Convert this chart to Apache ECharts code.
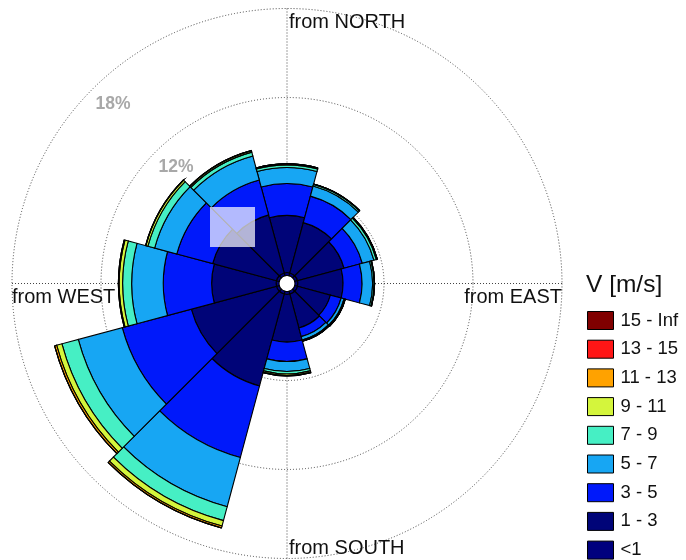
<!DOCTYPE html>
<html>
<head>
<meta charset="utf-8">
<script src="https://cdn.jsdelivr.net/npm/echarts@6/dist/echarts.min.js"></script>
<style>
html,body{margin:0;padding:0;background:#fff;}
#chart{width:686px;height:560px;}
</style>
</head>
<body>
<div id="chart"></div>
<script>
// Directions (wind "from"), clockwise from north, 30 degree sectors
const directions = ['N', 'N30E', 'N60E', 'E', 'S60E', 'S30E', 'S', 'S30W', 'S60W', 'W', 'N60W', 'N30W'];

// Frequency (%) of each speed class per direction (stacked outward)
const lt1    = [0.20, 0.20, 0.20, 0.20, 0.20, 0.20, 0.20, 0.20, 0.20, 0.20, 0.20, 0.20];
const v1_3   = [3.85, 3.51, 3.24, 3.04, 2.29, 2.36, 3.21, 6.41, 5.94, 4.34, 4.45, 4.05];
const v3_5   = [2.15, 1.85, 1.28, 1.28, 0.75, 0.61, 1.31, 4.99, 4.82, 3.26, 2.50, 2.43];
const v5_7   = [1.08, 0.71, 0.81, 0.71, 0.20, 0.24, 0.67, 3.44, 3.07, 2.13, 1.55, 1.68];
const v7_9   = [0.17, 0.10, 0.17, 0.10, 0.07, 0.06, 0.17, 0.97, 1.14, 0.61, 0.47, 0.27];
const v9_11  = [0.07, 0.03, 0.07, 0.03, 0.02, 0.02, 0.10, 0.38, 0.37, 0.23, 0.14, 0.10];
const v11_13 = [0, 0, 0, 0, 0, 0, 0.03, 0.13, 0.14, 0.05, 0.02, 0.01];
const v13_15 = [0, 0, 0, 0, 0, 0, 0, 0, 0, 0, 0, 0];
const v15_inf= [0, 0, 0, 0, 0, 0, 0, 0, 0, 0, 0, 0];

const classNames = ['<1', '1 - 3', '3 - 5', '5 - 7', '7 - 9', '9 - 11', '11 - 13', '13 - 15', '15 - Inf'];
const classData  = [lt1, v1_3, v3_5, v5_7, v7_9, v9_11, v11_13, v13_15, v15_inf];
const classColors = ['#00007e', '#000478', '#0019fa', '#17a6f3', '#46efc4', '#d4f53c', '#ffa200', '#ff1616', '#800000'];

const radiusTicks = [0, 18, 6];       // min, max, interval (%)
const shownTickLabels = [12, 18];
const compassLabels = ['from NORTH', 'from SOUTH', 'from WEST', 'from EAST'];
const legendTitle = 'V [m/s]';

// layout
const CX = 287, CY = 283.5, R0 = 8, R1 = 275;
const FONT = '"Liberation Sans", Arial, sans-serif';

const chart = echarts.init(document.getElementById('chart'), null, {renderer: 'canvas'});

const series = classNames.map((name, i) => ({
  name: name,
  type: 'bar',
  coordinateSystem: 'polar',
  polarIndex: 0,
  stack: 'rose',
  data: classData[i],
  barCategoryGap: '0%',
  barGap: '0%',
  itemStyle: {color: classColors[i], borderColor: '#000', borderWidth: 1.1},
  emphasis: {disabled: true},
  animation: false
}));

const dotted = {color: '#444', width: 1, type: [1, 2]};

const option = {
  backgroundColor: '#fff',
  animation: false,
  title: {
    text: legendTitle,
    left: 586, top: 273, padding: 0,
    textStyle: {fontFamily: FONT, fontSize: 24.5, fontWeight: 'normal', color: '#111'}
  },
  legend: {
    orient: 'vertical',
    left: 587, top: 311, padding: 0,
    itemWidth: 26, itemHeight: 18, itemGap: 9.7,
    data: classNames.slice().reverse(),
    icon: 'rect',
    itemStyle: {borderColor: '#000', borderWidth: 1},
    textStyle: {fontFamily: FONT, fontSize: 18.5, color: '#111', padding: [0, 0, 0, 2]},
    selectedMode: false
  },
  polar: [
    {center: [CX, CY], radius: [R0, R1]},
    {center: [CX, CY], radius: [R0, R1]},
    {center: [CX, CY], radius: [R0, R1]}
  ],
  angleAxis: [
    {
      polarIndex: 0, type: 'category', data: directions,
      startAngle: 90 + 15, clockwise: true,
      axisLine: {show: false}, axisTick: {show: false}, axisLabel: {show: false},
      splitLine: {show: false}
    },
    {
      polarIndex: 1, type: 'value', min: 0, max: 360, interval: 90,
      startAngle: 90, clockwise: true,
      axisLine: {show: false}, axisTick: {show: false}, axisLabel: {show: false},
      splitLine: {show: true, lineStyle: dotted}
    },
    {
      polarIndex: 2, type: 'value', min: 0, max: 360, startAngle: 135, show: false
    }
  ],
  radiusAxis: [
    {
      polarIndex: 0, type: 'value', min: radiusTicks[0], max: radiusTicks[1], interval: radiusTicks[2],
      axisLine: {show: false}, axisTick: {show: false}, axisLabel: {show: false},
      splitLine: {show: true, lineStyle: dotted}
    },
    {
      polarIndex: 1, type: 'value', min: radiusTicks[0], max: radiusTicks[1], interval: radiusTicks[2],
      axisLine: {show: false}, axisTick: {show: false}, axisLabel: {show: false},
      splitLine: {show: false}
    },
    {
      polarIndex: 2, type: 'value', min: radiusTicks[0], max: radiusTicks[1], interval: radiusTicks[2],
      z: 20,
      axisLine: {show: false}, axisTick: {show: false}, splitLine: {show: false},
      axisLabel: {
        show: true, margin: 0, rotate: 0,
        align: 'left', verticalAlign: 'top',
        padding: [6, 0, 0, 3],
        fontFamily: FONT, fontSize: 17.5, fontWeight: 'bold', color: '#a8a8a8',
        formatter: v => shownTickLabels.indexOf(v) >= 0 ? v + '%' : ''
      }
    }
  ],
  graphic: [
    {type: 'rect', z: 50, shape: {x: 210, y: 207, width: 45, height: 40},
     style: {fill: 'rgba(255,255,255,0.7)'}},
    {type: 'text', z: 60, style: {text: compassLabels[0], x: CX + 2, y: CY - R1 + 14,
      font: '20px ' + FONT, fill: '#111', textAlign: 'left', textVerticalAlign: 'middle', verticalAlign: 'middle'}},
    {type: 'text', z: 60, style: {text: compassLabels[1], x: CX + 2, y: CY + R1 - 10,
      font: '20px ' + FONT, fill: '#111', textAlign: 'left', textVerticalAlign: 'middle', verticalAlign: 'middle'}},
    {type: 'text', z: 60, style: {text: compassLabels[2], x: CX - R1, y: CY + 14,
      font: '20px ' + FONT, fill: '#111', textAlign: 'left', textVerticalAlign: 'middle', verticalAlign: 'middle'}},
    {type: 'text', z: 60, style: {text: compassLabels[3], x: CX + R1, y: CY + 14,
      font: '20px ' + FONT, fill: '#111', textAlign: 'right', textVerticalAlign: 'middle', verticalAlign: 'middle'}}
  ],
  series: series
};

chart.setOption(option);
</script>
</body>
</html>
